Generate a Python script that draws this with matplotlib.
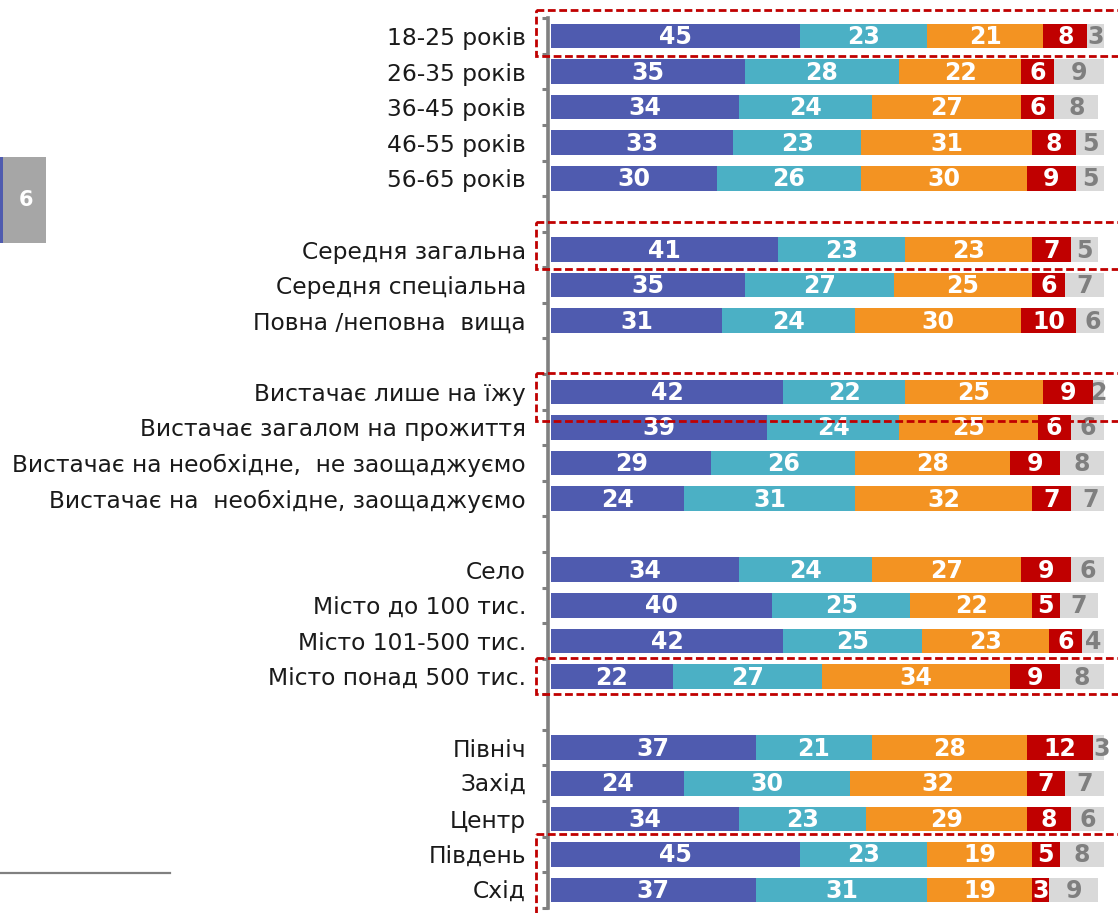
import numpy as np
import matplotlib.pyplot as plt
from matplotlib.patches import Rectangle
import matplotlib.transforms as mtransforms

plt.rcParams['font.family'] = ['DejaVu Sans']

categories = [
    "18-25 років", "26-35 років", "36-45 років", "46-55 років", "56-65 років",
    "Середня загальна", "Середня спеціальна", "Повна /неповна  вища",
    "Вистачає лише на їжу", "Вистачає загалом на прожиття",
    "Вистачає на необхідне,  не заощаджуємо", "Вистачає на  необхідне, заощаджуємо",
    "Село", "Місто до 100 тис.", "Місто 101-500 тис.", "Місто понад 500 тис.",
    "Північ", "Захід", "Центр", "Південь", "Схід",
]
group_sizes = [5, 3, 4, 4, 5]

s1 = [45, 35, 34, 33, 30, 41, 35, 31, 42, 39, 29, 24, 34, 40, 42, 22, 37, 24, 34, 45, 37]
s2 = [23, 28, 24, 23, 26, 23, 27, 24, 22, 24, 26, 31, 24, 25, 25, 27, 21, 30, 23, 23, 31]
s3 = [21, 22, 27, 31, 30, 23, 25, 30, 25, 25, 28, 32, 27, 22, 23, 34, 28, 32, 29, 19, 19]
s4 = [8, 6, 6, 8, 9, 7, 6, 10, 9, 6, 9, 7, 9, 5, 6, 9, 12, 7, 8, 5, 3]
s5 = [3, 9, 8, 5, 5, 5, 7, 6, 2, 6, 8, 7, 6, 7, 4, 8, 3, 7, 6, 8, 9]

colors = ["#4F5BAF", "#4BB0C5", "#F39322", "#C00000", "#D9D9D9"]
text_colors = ["white", "white", "white", "white", "#7F7F7F"]

# highlighted rows: (first, last, pad above, pad below) in row units
highlights = [
    ("18-25 років", "18-25 років", 0.73, 0.55),
    ("Середня загальна", "Середня загальна", 0.76, 0.56),
    ("Вистачає лише на їжу", "Вистачає лише на їжу", 0.53, 0.81),
    ("Місто понад 500 тис.", "Місто понад 500 тис.", 0.53, 0.5),
    ("Південь", "Схід", 0.56, 1.2),
]

# y positions with one empty slot between groups
ypos = []
y = 0
for g in group_sizes:
    for i in range(g):
        ypos.append(y)
        y += 1
    y += 1
ypos = np.array(ypos)
nslots = ypos[-1] + 1

W, H = 1118, 913
fig = plt.figure(figsize=(W / 100, H / 100), dpi=100)
slot = (890 - 36) / (nslots - 1)
top = 36 - slot / 2
bottom = 890 + slot / 2
ax = fig.add_axes([551 / W, 1 - bottom / H, (1104 - 551) / W, (bottom - top) / H])

series = [s1, s2, s3, s4, s5]
left = np.zeros(len(categories))
for vals, c, tc in zip(series, colors, text_colors):
    vals = np.array(vals, dtype=float)
    ax.barh(ypos, vals, left=left, height=0.69, color=c, edgecolor='none')
    for yy, l, v in zip(ypos, left, vals):
        ax.text(l + v / 2, yy + 0.03, f"{int(v)}", ha='center', va='center',
                color=tc, fontsize=17, fontweight='bold')
    left += vals

ax.set_xlim(0, 100)
ax.set_ylim(nslots - 0.5, -0.5)
ax.set_xticks([])
ax.set_yticks(ypos)
ax.set_yticklabels(categories)
ax.set_yticks(np.arange(-0.5, nslots, 1.0), minor=True)
ax.tick_params(axis='y', which='major', length=0, pad=16, labelsize=16.8, labelcolor='#1a1a1a')
ax.tick_params(axis='y', which='minor', length=4.5, width=2.2, color='#808080', direction='out')
for s in ['top', 'right', 'bottom']:
    ax.spines[s].set_visible(False)
ax.spines['left'].set_color('#808080')
ax.spines['left'].set_linewidth(2.6)
ax.spines['left'].set_position(('outward', 2))

# dashed highlight boxes
trans = mtransforms.blended_transform_factory(fig.transFigure, ax.transData)
for first, last, pt, pb in highlights:
    y0 = ypos[categories.index(first)] - pt
    y1 = ypos[categories.index(last)] + pb
    rect = Rectangle((536 / W, y0), 1.0, y1 - y0, transform=trans, fill=False,
                     edgecolor='#C00000', lw=2.0, linestyle=(0, (2.8, 1.3)),
                     clip_on=False, zorder=5)
    fig.add_artist(rect)

# page number box on the left
fig.add_artist(Rectangle((0, 1 - 243 / H), 46 / W, 86 / H, transform=fig.transFigure,
                         facecolor='#A6A6A6', edgecolor='none'))
fig.add_artist(Rectangle((0, 1 - 243 / H), 3 / W, 86 / H, transform=fig.transFigure,
                         facecolor='#4F5BAF', edgecolor='none'))
fig.text(26 / W, 1 - 200 / H, "6", ha='center', va='center', color='white',
         fontsize=15, fontweight='bold')

# footnote rule
fig.add_artist(plt.Line2D([0, 170 / W], [1 - 873 / H, 1 - 873 / H], transform=fig.transFigure,
                          color='#808080', lw=1.6))

fig.savefig("out.png", dpi=100)
